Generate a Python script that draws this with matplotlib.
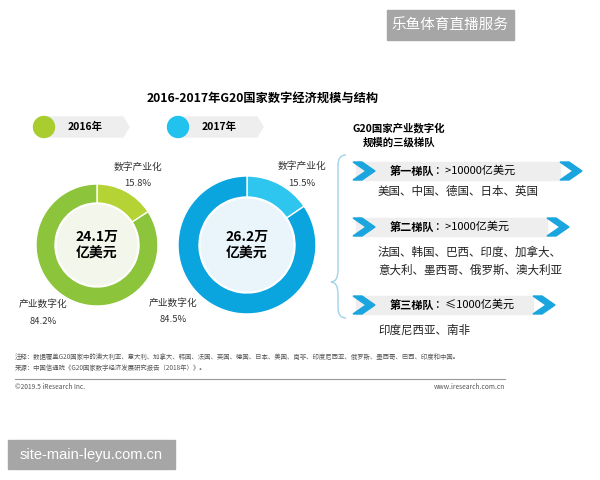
import matplotlib
matplotlib.use('Agg')
import matplotlib.pyplot as plt
from matplotlib.patches import Wedge, Circle, Polygon, Rectangle, PathPatch
from matplotlib.path import Path

plt.rcParams['font.family'] = ['Noto Sans CJK SC', 'DejaVu Sans']

# data
years = ['2016年', '2017年']
totals = ['24.1万', '26.2万']
digital_industry = [15.8, 15.5]      # 数字产业化 %
industry_digital = [84.2, 84.5]      # 产业数字化 %
tier_names = ['第一梯队', '第二梯队', '第三梯队']
tier_ranges = ['：>10000亿美元', '：>1000亿美元', '：≤1000亿美元']
tier_countries = ['美国、中国、德国、日本、英国',
                  '法国、韩国、巴西、印度、加拿大、\n意大利、墨西哥、俄罗斯、澳大利亚',
                  '印度尼西亚、南非']

fig = plt.figure(figsize=(6, 4.8), dpi=100)
ax = fig.add_axes([0, 0, 1, 1])
ax.set_xlim(0, 600)
ax.set_ylim(480, 0)
ax.axis('off')

# watermark oben
ax.add_patch(Rectangle((387, 10), 127, 30, color='#a6a6a6', zorder=5))
ax.text(450, 25, '乐鱼体育直播服务', color='white', fontsize=10.5, ha='center', va='center', zorder=6)

ax.text(263, 98, '2016-2017年G20国家数字经济规模与结构', fontsize=8.8, fontweight='bold',
        ha='center', va='center')

# legend pills
main_cols = ['#8cc43c', '#0aa5df']
small_cols = ['#b5d334', '#2ec5ef']
inner_cols = ['#f3f6ea', '#eaf5fb']
dot_cols = ['#a9cc2e', '#22c2ee']
pill_x = [44, 178]
for i in range(2):
    x0 = pill_x[i]
    ax.add_patch(Polygon([(x0, 117), (x0 + 79, 117), (x0 + 85, 127), (x0 + 79, 137), (x0, 137)],
                         closed=True, color='#eeeeee', zorder=1))
    ax.add_patch(Circle((x0, 127), 10.5, color=dot_cols[i], zorder=2))
    ax.text(x0 + 41, 127, years[i], fontsize=7.5, fontweight='bold', ha='center', va='center')

# donuts
centers = [(97, 245), (247, 245)]
r_out = [61, 69]
r_in = [42, 48]
for i in range(2):
    cx, cy = centers[i]
    start = 270
    a1 = start + digital_industry[i] / 100 * 360
    a2 = a1 + industry_digital[i] / 100 * 360
    ax.add_patch(Wedge((cx, cy), r_out[i], start, a1, width=r_out[i] - r_in[i],
                       facecolor=small_cols[i], edgecolor='white', linewidth=1))
    ax.add_patch(Wedge((cx, cy), r_out[i], a1, a2, width=r_out[i] - r_in[i],
                       facecolor=main_cols[i], edgecolor='white', linewidth=1))
    ax.add_patch(Circle((cx, cy), r_in[i] - 1.5, facecolor=inner_cols[i], edgecolor='none'))
    ax.text(cx, cy - 8, totals[i], fontsize=10, fontweight='bold', ha='center', va='center')
    ax.text(cx, cy + 9, '亿美元', fontsize=10, fontweight='bold', ha='center', va='center')

label_pos_small = [(138, 167), (302, 166)]
label_pos_big = [(43, 304), (173, 303)]
for i in range(2):
    x, y = label_pos_small[i]
    ax.text(x, y, '数字产业化', fontsize=7, ha='center', va='center', color='#333333')
    ax.text(x, y + 17, f'{digital_industry[i]}%', fontsize=6.8, ha='center', va='center', color='#333333')
    x, y = label_pos_big[i]
    ax.text(x, y, '产业数字化', fontsize=7, ha='center', va='center', color='#333333')
    ax.text(x, y + 17, f'{industry_digital[i]}%', fontsize=6.8, ha='center', va='center', color='#333333')

# rechte Seite
ax.text(399, 135, 'G20国家产业数字化\n规模的三级梯队', fontsize=7.5, fontweight='bold',
        ha='center', va='center', multialignment='center', linespacing=1.4)

# geschweifte Klammer
verts = [(346, 155), (338, 155), (338, 165),
         (338, 270), (338, 282), (331, 282),
         (338, 282), (338, 294),
         (338, 308), (338, 318), (346, 318)]
codes = [Path.MOVETO, Path.CURVE3, Path.CURVE3,
         Path.LINETO, Path.CURVE3, Path.CURVE3,
         Path.CURVE3, Path.CURVE3,
         Path.LINETO, Path.CURVE3, Path.CURVE3]
ax.add_patch(PathPatch(Path(verts, codes), facecolor='none', edgecolor='#9fd3ea', linewidth=1))

banner_y = [171, 227, 305]
banner_end = [560, 547, 533]
country_y = [191, 261, 330]
blue = '#1aa5de'

def chevron(x0, yc, w=22, h=18, t=9):
    pts = [(x0, yc - h / 2), (x0 + t, yc - h / 2), (x0 + w, yc), (x0 + t, yc + h / 2),
           (x0, yc + h / 2), (x0 + w - t, yc)]
    ax.add_patch(Polygon(pts, closed=True, color=blue, zorder=3))

fig.canvas.draw()
for i in range(3):
    yc = banner_y[i]
    ax.add_patch(Rectangle((356, yc - 9), banner_end[i] - 356, 18, color='#eeeeee', zorder=1))
    chevron(353, yc)
    chevron(banner_end[i], yc)
    t = ax.text(390, yc, tier_names[i], fontsize=8, fontweight='bold', ha='left', va='center')
    bb = t.get_window_extent(renderer=fig.canvas.get_renderer())
    x_end = ax.transData.inverted().transform((bb.x1, bb.y0))[0]
    ax.text(x_end, yc, tier_ranges[i], fontsize=8, ha='left', va='center')
    ax.text(378, country_y[i], tier_countries[i], fontsize=8.3, ha='left', va='center',
            linespacing=1.45, color='#222222')

# footer
ax.text(15, 357, '注释：数据覆盖G20国家中的澳大利亚、意大利、加拿大、韩国、法国、英国、德国、日本、美国、南非、印度尼西亚、俄罗斯、墨西哥、巴西、印度和中国。',
        fontsize=4.6, ha='left', va='center', color='#555555')
ax.text(15, 368, '来源：中国信通院《G20国家数字经济发展研究报告（2018年）》。',
        fontsize=4.6, ha='left', va='center', color='#555555')
ax.plot([15, 505], [379, 379], color='#999999', linewidth=0.8)
ax.text(15, 387, '©2019.5 iResearch Inc.', fontsize=4.8, ha='left', va='center', color='#555555')
ax.text(505, 387, 'www.iresearch.com.cn', fontsize=4.8, ha='right', va='center', color='#555555')

# watermark unten
ax.add_patch(Rectangle((8, 440), 167, 29, color='#a6a6a6', zorder=5))
ax.text(91, 455, 'site-main-leyu.com.cn', color='white', fontsize=10.5, ha='center', va='center',
        family='Liberation Sans', zorder=6)

plt.savefig('out.png', dpi=100)
